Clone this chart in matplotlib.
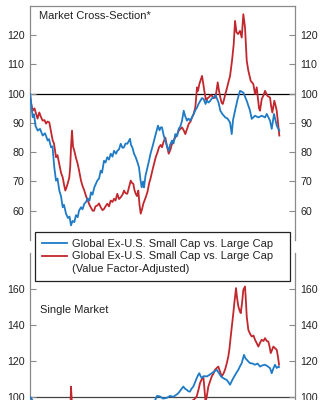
import numpy as np
import matplotlib
matplotlib.use("Agg")
import matplotlib.pyplot as plt
from matplotlib.lines import Line2D

plt.rcParams['font.family'] = ['Liberation Sans', 'DejaVu Sans']

# months since start of series, index values (start = 100)
# --- Market Cross-Section ---
cs_blue_m = [0, 1, 2.7, 4, 5.5, 7.7, 10, 12.7, 15, 17.7, 19, 21, 22.5, 24.3, 26, 27.5, 29.3, 31, 32.7, 34,
             36, 38, 39.5, 41, 42.5, 44.3, 46, 47.7, 49, 51, 52.5, 54.3, 56, 57.7, 59.5, 61, 62.5, 64.3, 67.3, 69,
             70.7, 72, 74, 75.5, 77.3, 79, 80.7, 82.5, 84, 86, 87.3, 89, 90.7, 92.5, 94, 95.5, 97.3, 100, 101, 102.3,
             104, 105.7, 107.5, 109, 110.5, 111.7, 113, 114, 115.5, 116.7, 119, 120.5, 122.3, 124, 125.7, 128, 129.5, 130.7, 132, 133.5,
             135.3, 137, 138.7, 140, 142, 143.5, 145.3, 147, 148.7, 150.5, 152, 153.7, 155, 157, 158.5, 160.3, 162, 163.7, 165.5, 167,
             168.5, 170.3, 172, 173.7, 175.5, 177, 178.5, 180.3, 182, 183.7, 185.5, 187, 188.5, 190.3, 192.5, 195.3, 197.5, 200, 201.7, 203,
             205, 207.5, 210, 213.3, 216.7, 220, 221.7, 225, 228.3, 231.7, 235, 236.7, 240, 241.7, 244, 246.7, 249.3]
cs_blue = [100, 97, 92, 93, 89, 87.4, 88, 85.7, 86.5, 84, 84.5, 81.7, 82, 74.8, 70.3, 71, 66.9, 65, 61.2, 62,
           59, 57.5, 58, 55, 56.5, 56.1, 58.5, 57.8, 60, 61.2, 60.5, 62.4, 63, 64.2, 63.5, 66.3, 65.5, 68, 70.3, 71,
           73.7, 73, 77.1, 76.5, 78.3, 77.5, 79.5, 78.5, 80.5, 79.5, 80.5, 81, 82.9, 81.5, 81.7, 83, 82.9, 84.6, 82.5, 81.7,
           79.5, 78.3, 76.5, 74.8, 70.5, 68, 70, 68, 72, 73.7, 77.1, 79.5, 81.7, 84, 86.2, 89.1, 87.5, 88.5, 88.5, 86,
           84, 82, 80.5, 82.5, 84, 83, 86.2, 85.5, 88, 89, 90.8, 94.2, 92.5, 90.8, 91.5, 90.8, 92, 93.1, 94.5, 95.3,
           96.5, 97.6, 98.5, 98.2, 96.5, 97.6, 97, 97.6, 98.5, 98.7, 99.5, 98.2, 97, 94.2, 93, 91.9, 91.5, 90.2, 86.2, 91,
           94.2, 98, 101, 100.4, 97.6, 94.2, 91.4, 92.5, 91.9, 92.5, 91.9, 93.1, 90.8, 88, 93.1, 89.1, 87.4]

cs_red_m = [0, 1, 2.7, 4.5, 6, 7.5, 9.3, 11, 12.7, 14.5, 16, 17.5, 19.3, 21, 22.7, 24, 26, 27.5, 29.3, 31,
            32.7, 34, 35.3, 36.5, 37.7, 39.3, 40.2, 41, 42, 43, 44.3, 46, 47.7, 49.5, 51, 52.5, 54.3, 56, 57.7, 59.5,
            61, 62.7, 64, 65.5, 67.3, 69, 70.7, 72.5, 74, 75.5, 77.3, 79, 80.7, 82.5, 84, 85.5, 87.3, 89, 90.7, 92.5,
            94, 95.5, 97.3, 99, 100.7, 102, 103.3, 104.5, 105.7, 107, 108.3, 109.5, 110.7, 112, 113.3, 115.7, 117.5, 119, 120.5, 122.3,
            124, 125.7, 127.5, 129, 130.7, 132, 133.5, 135.3, 137, 138.7, 140.5, 142, 143.5, 145.3, 147, 148.7, 150.5, 152, 153.7, 155.3,
            157, 158.7, 160.5, 162, 163.5, 165.3, 166.2, 167, 168, 169.3, 170.5, 172, 173, 174.3, 175.3, 176.3, 177.5, 178.7, 180.5, 182,
            183.5, 185.3, 186.5, 187.7, 189, 190.3, 191.5, 192.7, 194, 195.3, 197, 198.7, 200, 202, 203.7, 205, 206.5, 208, 210, 211.7,
            213.3, 215, 216.7, 218.3, 220.7, 223.3, 225, 226.7, 228, 229, 230, 231.7, 233.5, 235, 237.3, 240, 241, 242.3, 244.3, 245.5,
            246.7, 248, 249.3]
cs_red = [100, 97, 94.2, 95, 93.2, 91.5, 93.6, 92, 90.8, 91, 89.8, 90.5, 90.2, 87, 84, 83, 78.3, 79, 76, 73,
          71.4, 69, 66.9, 68, 69.3, 71.4, 75, 81.7, 87.4, 82, 80.5, 78, 76, 73, 70.3, 68.5, 66.9, 65, 63.5, 62,
          61, 60, 60, 61.5, 61.8, 62.5, 61.2, 60.2, 60.6, 61.5, 62.4, 61.5, 63.5, 63, 64.1, 63.5, 65.8, 64, 64.6, 65.5,
          66.9, 66, 65.8, 68, 70.3, 69.5, 69.2, 67, 65.8, 65, 66.9, 62, 59, 60.5, 62.4, 64.6, 66.5, 69.2, 71, 73.7,
          76, 78.3, 80, 81.7, 82.5, 81.7, 83.5, 85, 82, 79.5, 81, 82.9, 84, 85, 86, 87.4, 88, 88.5, 87.5, 86.2,
          88, 89.7, 90.5, 91.9, 93, 95.3, 99, 102.2, 101, 103.3, 104.5, 106.1, 104, 101, 99, 97.6, 98.5, 98.7, 99.5, 99.3,
          98.5, 98.7, 101, 103.9, 101, 98.7, 97, 96.5, 98, 99.9, 102, 104.4, 106, 111.3, 117, 124.9, 121, 120.4, 121.5, 119.2,
          127.2, 122.6, 111.3, 107.9, 104.4, 103.3, 99.9, 102.2, 98, 95, 94.2, 98.2, 99.5, 101, 99.3, 98.7, 96, 93.6, 97.6, 96,
          94.2, 90, 85.7]

# --- Single Market ---
sm_blue_m = [0, 5, 15, 25, 35, 42, 50, 60, 70, 80, 90, 100, 110, 115, 120, 125, 127, 130, 133, 136.7,
             140, 143.3, 146, 148.3, 151, 153.3, 155, 156.7, 158.5, 160, 161.5, 163.3, 165, 166.7, 168, 169.3, 170.5, 171.7, 174, 176.7,
             179, 181.7, 184, 186.7, 188.5, 190, 191.5, 193.3, 195, 196.7, 198.5, 200, 201.5, 203.3, 206, 208.3, 210, 211.7, 214, 215.3,
             216.7, 218.5, 220, 222.5, 225, 227.5, 230, 232.5, 235, 237.5, 240, 241.7, 243.5, 245, 246.7, 248.3, 249]
sm_blue = [100, 96, 93, 88, 82, 80, 83, 87, 90, 92, 94, 95, 92, 90, 95, 98, 100.5, 100.2, 99, 99.4,
           100.5, 100, 101, 102, 104, 105.7, 104.5, 103.9, 103, 102.9, 104.5, 105.7, 108, 110.4, 112, 113.1, 111.5, 110.4, 111.5, 111.3,
           112, 113.1, 114, 115, 113.5, 112.2, 111, 110.4, 109.8, 109.4, 108, 106.7, 108.5, 110.4, 113, 115, 117, 118.7, 123.3, 121.5,
           120.6, 119.5, 118.7, 118.5, 117.8, 118.5, 116.8, 117.5, 117.8, 117, 115.9, 113.1, 116, 117.8, 116, 116.8, 116.5]

sm_red_m = [0, 5, 15, 25, 35, 39, 40.5, 41, 42, 44, 50, 60, 70, 80, 90, 100, 110, 120, 130, 140,
            150, 160, 164, 166.7, 168.5, 170, 171.5, 173.3, 174.5, 175.5, 177, 178.3, 180, 181.7, 183.5, 185, 186.7, 188.3, 190, 191.7,
            193.5, 195, 196.7, 198.3, 199.5, 200.7, 202, 203.3, 204.5, 206, 207, 208.3, 209.5, 210.7, 212, 213.3, 215, 216, 216.7, 218.3,
            220, 221.7, 223.5, 225, 226.5, 228.3, 230, 231.7, 233.5, 235, 236.7, 238.3, 239.5, 240.7, 242, 243.3, 245, 246.7, 248, 249]
sm_red = [100, 95, 92, 85, 78, 82, 95, 105.6, 95, 85, 80, 76, 78, 80, 82, 84, 78, 85, 90, 93,
          95, 97, 98.5, 100.2, 104, 107.6, 109.5, 111.3, 104, 97, 101, 105.7, 108.5, 111.3, 113, 115, 116, 116.8, 114, 111.3,
          113, 115, 118.5, 122.4, 127, 133.5, 140, 146.5, 153, 160.4, 155, 150.2, 148, 146.5, 152, 159.4, 161.3, 152, 144.6, 137.2,
          135, 133.5, 134, 131.7, 130, 127.9, 130, 131.7, 131, 132.6, 131, 130.7, 128, 124.3, 126, 127.9, 127, 126.1, 122, 117.8]

labels = ["Global Ex-U.S. Small Cap vs. Large Cap",
          "Global Ex-U.S. Small Cap vs. Large Cap",
          "(Value Factor-Adjusted)"]

BLUE = '#1f7bc6'
RED = '#c1272d'
SPINE = '#8a8a8a'
START = 2000
LW = 1.3


def to_years(m):
    return START + np.array(m) / 12.0


def style(ax):
    for s in ['left', 'right', 'top']:
        ax.spines[s].set_color(SPINE)
        ax.spines[s].set_linewidth(0.9)
    ax.spines['bottom'].set_visible(False)
    ax.tick_params(axis='y', which='both', direction='in', length=4, width=0.8, color=SPINE,
                   labelsize=7.7, labelcolor='#222222', left=True, right=True,
                   labelleft=True, labelright=True, pad=4)
    ax.tick_params(axis='x', bottom=False, labelbottom=False)
    ax.set_xlim(START, START + 265 / 12.0)


fig = plt.figure(figsize=(3.24, 4.0), dpi=100)

ax1 = fig.add_axes([0.0926, 0.40, 0.818, 0.585])
ax1.axhline(100, color='black', lw=0.9, zorder=1)
l1, = ax1.plot(to_years(cs_blue_m), cs_blue, color=BLUE, lw=LW, zorder=3)
l2, = ax1.plot(to_years(cs_red_m), cs_red, color=RED, lw=LW, zorder=2)
ax1.set_ylim(50, 130)
ax1.set_yticks([60, 70, 80, 90, 100, 110, 120])
style(ax1)
ax1.text(0.034, 0.957, "Market Cross-Section*", transform=ax1.transAxes,
         fontsize=8, va='center', ha='left', color='#222222')

ax2 = fig.add_axes([0.0926, -0.172, 0.818, 0.54])
ax2.axhline(100, color='#444444', lw=0.9, zorder=1)
ax2.plot(to_years(sm_blue_m), sm_blue, color=BLUE, lw=LW, zorder=3)
ax2.plot(to_years(sm_red_m), sm_red, color=RED, lw=LW, zorder=2)
ax2.set_ylim(60, 180)
ax2.set_yticks([100, 120, 140, 160])
style(ax2)
ax2.spines['top'].set_visible(False)
ax2.text(0.038, 0.736, "Single Market", transform=ax2.transAxes,
         fontsize=8, va='center', ha='left', color='#222222')

blank = Line2D([], [], color='none')
leg = fig.legend([l1, l2, blank], labels, loc='upper left',
                 bbox_to_anchor=(0.108, 0.29, 0.787, 0.13), mode='expand',
                 fontsize=8, frameon=True, fancybox=False, framealpha=1,
                 edgecolor='#222222', handlelength=2.25, handletextpad=0.45,
                 borderpad=0.6, labelspacing=0.25, borderaxespad=0)
leg.get_frame().set_linewidth(0.9)
for t in leg.get_texts():
    t.set_color('#222222')

fig.savefig("out.png", dpi=100)
